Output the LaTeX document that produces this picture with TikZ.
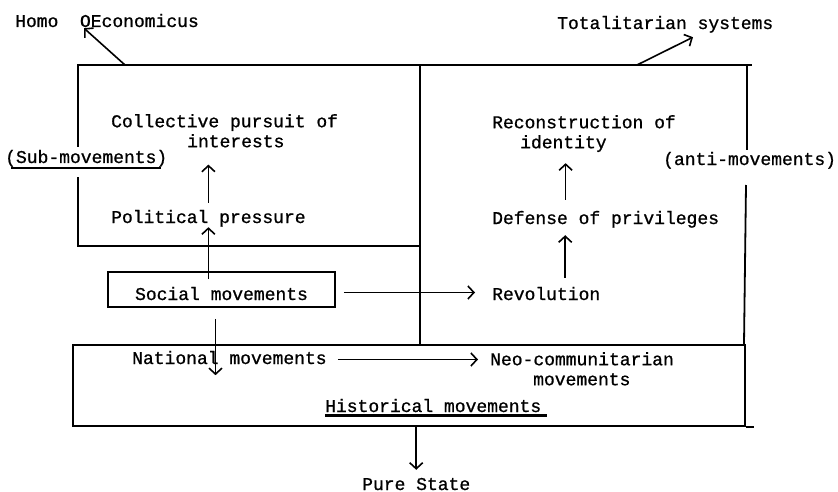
\documentclass[tikz,border=0pt]{standalone}
\usepackage{fontspec}
\setmainfont{Liberation Mono}[BoldFont=Liberation Mono, BoldFeatures={FakeBold=0.9}]
\usetikzlibrary{arrows.meta,calc}
\begin{document}
\begin{tikzpicture}[x=1pt,y=-1pt,
  txt/.style={font=\fontsize{18}{20}\selectfont\bfseries},
  lbl/.style={txt, inner sep=0pt, text height=13pt, text depth=4pt, anchor=base west},
  ml/.style={txt, inner sep=0pt, align=left, anchor=north west},
  frame/.style={line width=1.8pt},
  arr/.style={line width=1.6pt, -{Straight Barb[length=6pt,width=13pt]}}]
\useasboundingbox (0,0) rectangle (838,492);

% frame lines
\draw[frame] (78,147) -- (78,65) -- (752,65);
\draw[frame] (78,177) -- (78,246) -- (420,246);
\draw[frame] (420,65) -- (420,344);
\draw[frame] (747,65) -- (747,150);
\draw[frame] (746,185) -- (744,344);
\node[draw, frame, minimum width=672pt, minimum height=81pt, inner sep=0pt, anchor=north west] (histbox) at (72,344) {};
\draw[frame] (histbox.south east) -- ++(8,0);

% text nodes
\node[lbl] (homo) at (15,27) {Homo~~OEconomicus};
\node[lbl] (total) at (557,29) {Totalitarian systems};
\node[ml] (coll) at (111,114) {Collective pursuit of\\\hspace*{76pt}interests};
\node[ml] (recon) at (492,115) {Reconstruction of\\\hspace*{28pt}identity};
\node[lbl] (sub) at (5,163) {(Sub-movements)};
\node[lbl] (anti) at (663,165) {(anti-movements)};
\node[lbl] (pol) at (111,223) {Political pressure};
\node[lbl] (def) at (492,224) {Defense of privileges};
\node[draw, frame, txt, minimum width=227pt, minimum height=35pt, inner sep=0pt, text height=21pt, text depth=0pt] (soc) at (221.5,289.5) {Social movements};
\node[lbl] (rev) at (492,300) {Revolution};
\node[lbl] (nat) at (132,364) {National movements};
\node[ml] (neo) at (490,352) {Neo-communitarian\\\hspace*{43pt}movements};
\node[lbl] (hist) at (325,412) {Historical movements};
\node[lbl] (pure) at (362,490) {Pure State};

% underlines
\draw[line width=1.2pt] ([xshift=6pt,yshift=-5pt]sub.base west) -- ([xshift=-6pt,yshift=-5pt]sub.base east);
\draw[line width=2.8pt] ([yshift=-3.5pt]hist.base west) -- ([xshift=6pt,yshift=-3.5pt]hist.base east);

% arrows
\coordinate (hs) at (125,65);
\coordinate (ts) at (637,65);
\draw[arr] (hs) -- ([xshift=69pt,yshift=3pt]homo.south west);
\draw[arr] (ts) -- ([xshift=136pt,yshift=-4pt]total.south west);
\draw[arr, shorten <=7pt, shorten >=17pt] (pol.north) -- (pol.north |- coll.south);
\draw[arr, shorten <=-8pt] (pol.south |- soc.north) -- (pol.south);
\draw[arr, shorten <=11pt, shorten >=-7pt] ([xshift=-6pt]soc.south) -- ([xshift=-6pt]soc.south |- nat.south);
\draw[arr, shorten <=8pt, shorten >=17pt] ([yshift=-3pt]soc.east) -- ([yshift=-3pt]soc.east -| rev.west);
\draw[arr, shorten <=9pt, shorten >=7pt] ([xshift=19pt]rev.north) -- ([xshift=19pt]rev.north |- def.south);
\draw[arr, shorten <=11pt, shorten >=11pt] ([xshift=-40pt]def.north) -- ([xshift=-40pt]def.north |- recon.south);
\draw[arr, shorten <=11pt, shorten >=12pt] (nat.east) -- (nat.east -| neo.west);
\draw[arr, shorten >=7pt] (histbox.south -| pure.north) -- (pure.north);
\end{tikzpicture}
\end{document}
